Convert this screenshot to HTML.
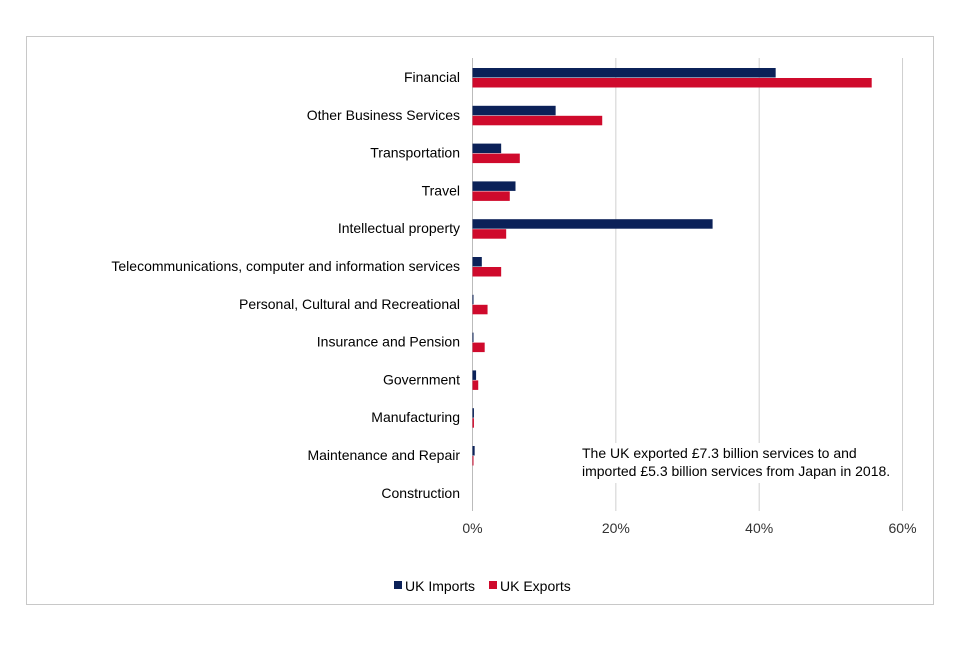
<!DOCTYPE html>
<html><head><meta charset="utf-8"><style>
body{margin:0;background:#fff;font-family:"Liberation Sans",sans-serif}
</style></head><body>
<svg width="960" height="640" xmlns="http://www.w3.org/2000/svg" font-family="Liberation Sans, sans-serif">
<rect x="26.5" y="36.5" width="907" height="568" fill="#fff" stroke="#c8c8c8"/>
<g id="grid"></g><g id="bars"></g><g id="labels"></g>
<rect x="578" y="443" width="322" height="40" fill="#fff"/>
<text x="582" y="458" font-size="14" fill="#000"><tspan x="582">The UK exported £7.3 billion services to and</tspan><tspan x="582" dy="18">imported £5.3 billion services from Japan in 2018.</tspan></text>
<g>
<rect x="394" y="581" width="8" height="8" fill="#0b2158"/>
<text x="405" y="591" font-size="14">UK Imports</text>
<rect x="489" y="581" width="8" height="8" fill="#cf0a2c"/>
<text x="500" y="591" font-size="14">UK Exports</text>
</g>
</svg>
<script>
const categories=["Financial","Other Business Services","Transportation","Travel","Intellectual property","Telecommunications, computer and information services","Personal, Cultural and Recreational","Insurance and Pension","Government","Manufacturing","Maintenance and Repair","Construction"];
const imports=[42.3,11.6,4.0,6.0,33.5,1.3,0.1,0.05,0.5,0.2,0.3,0];
const exports=[55.7,18.1,6.6,5.2,4.7,4.0,2.1,1.7,0.8,0.2,0.1,0];
const ticks=[0,20,40,60];
const tickLabels=["0%","20%","40%","60%"];
const NS="http://www.w3.org/2000/svg";
const x0=472.5,pxPer=7.167,top0=58,rowH=37.8;
const x=v=>x0+v*pxPer;
const rowY=i=>top0+i*rowH;
function mk(t,a,p){const e=document.createElementNS(NS,t);for(const k in a)e.setAttribute(k,a[k]);document.getElementById(p).appendChild(e);return e;}
ticks.forEach((t,i)=>{
 const l=mk('line',{x1:x(t),x2:x(t),y1:58,y2:511,stroke:t===0?'#bbb':'#d0d0d0','stroke-width':1},'grid');
 
 
 const tx=mk('text',{x:x(t),y:533,'font-size':14,'text-anchor':'middle',fill:'#333'},'labels');
 tx.textContent=tickLabels[i];
 
 
});
categories.forEach((c,i)=>{
 const y=rowY(i);
 const tx=mk('text',{x:460,y:y+24,'font-size':14,'text-anchor':'end',fill:'#000'},'labels');
 tx.textContent=c;
 
 
 if(imports[i]>0){const b=mk('rect',{x:x0,y:y+10,width:Math.max(imports[i]*pxPer,1),height:9.5,fill:'#0b2158'},'bars');
 
 }
 if(exports[i]>0){const b=mk('rect',{x:x0,y:y+20,width:Math.max(exports[i]*pxPer,1),height:9.5,fill:'#cf0a2c'},'bars');
 
 }
});
</script>
</body></html>
